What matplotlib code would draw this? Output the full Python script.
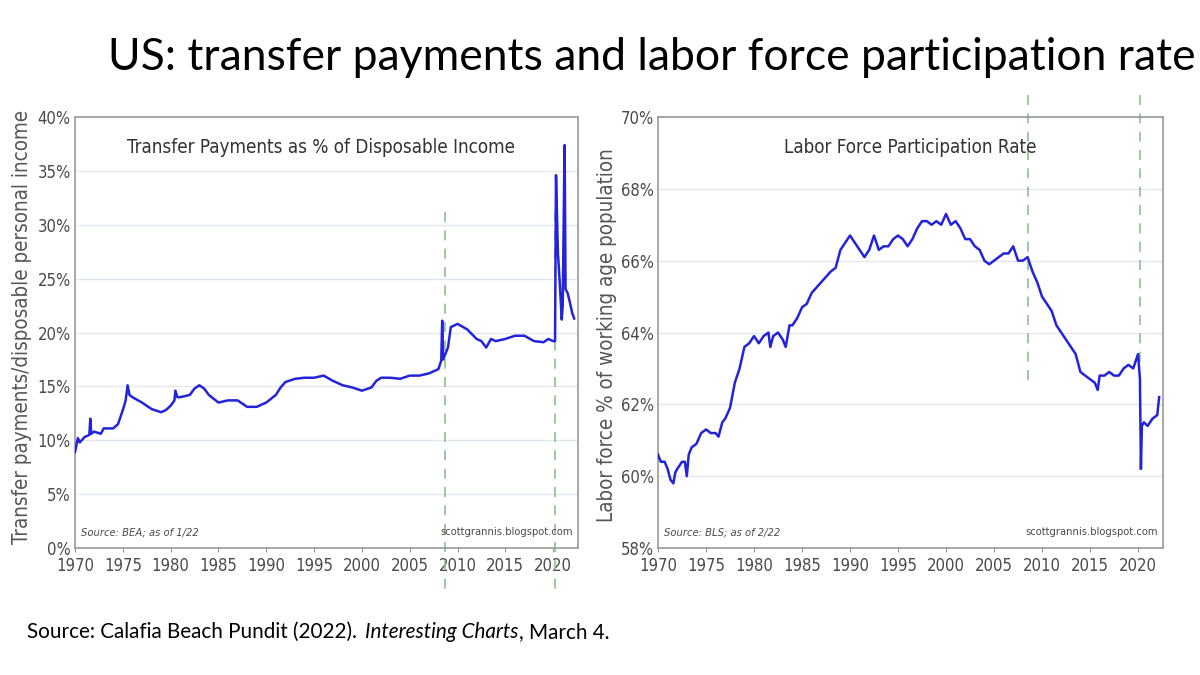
import matplotlib
matplotlib.use("Agg")
import matplotlib.pyplot as plt
from matplotlib.transforms import blended_transform_factory

# --- data ---
tp_years = [1970.0, 1970.3, 1970.5, 1971.0, 1971.5, 1971.6, 1971.7, 1972.0, 1972.7, 1973.0,
            1974.0, 1974.5, 1975.0, 1975.3, 1975.5, 1975.7, 1976.0, 1977.0, 1978.0, 1979.0,
            1979.5, 1980.0, 1980.4, 1980.5, 1980.7, 1981.0, 1982.0, 1982.5, 1983.0, 1983.5,
            1984.0, 1985.0, 1986.0, 1987.0, 1987.5, 1988.0, 1989.0, 1990.0, 1991.0, 1991.5,
            1992.0, 1993.0, 1994.0, 1995.0, 1996.0, 1997.0, 1998.0, 1999.0, 2000.0, 2001.0,
            2001.5, 2002.0, 2003.0, 2004.0, 2005.0, 2006.0, 2007.0, 2008.0, 2008.3, 2008.4,
            2008.5, 2009.0, 2009.3, 2010.0, 2011.0, 2012.0, 2012.5, 2013.0, 2013.5, 2014.0,
            2015.0, 2016.0, 2017.0, 2018.0, 2019.0, 2019.5, 2020.0, 2020.2, 2020.3, 2020.5,
            2020.7, 2020.9, 2021.0, 2021.1, 2021.2, 2021.3, 2021.5, 2021.7, 2022.0, 2022.2]
tp_values = [8.9, 10.2, 9.8, 10.3, 10.5, 12.0, 10.6, 10.8, 10.6, 11.1,
             11.1, 11.5, 12.8, 13.7, 15.1, 14.2, 14.0, 13.5, 12.9, 12.6,
             12.8, 13.2, 13.7, 14.6, 14.0, 14.0, 14.2, 14.8, 15.1, 14.8,
             14.2, 13.5, 13.7, 13.7, 13.4, 13.1, 13.1, 13.5, 14.2, 14.9,
             15.4, 15.7, 15.8, 15.8, 16.0, 15.5, 15.1, 14.9, 14.6, 14.9,
             15.5, 15.8, 15.8, 15.7, 16.0, 16.0, 16.2, 16.6, 17.4, 21.1,
             17.5, 18.6, 20.5, 20.8, 20.3, 19.4, 19.2, 18.6, 19.4, 19.2,
             19.4, 19.7, 19.7, 19.2, 19.1, 19.4, 19.2, 19.2, 34.6, 27.4,
             24.5, 21.2, 22.5, 30.0, 37.4, 24.0, 23.7, 23.0, 21.8, 21.3]

lf_years = [1970.0, 1970.3, 1970.7, 1971.0, 1971.3, 1971.6, 1971.8, 1972.0, 1972.5, 1972.8,
            1973.0, 1973.2, 1973.5, 1974.0, 1974.5, 1975.0, 1975.5, 1976.0, 1976.3, 1976.7,
            1977.0, 1977.5, 1978.0, 1978.5, 1979.0, 1979.5, 1980.0, 1980.5, 1981.0, 1981.5,
            1981.7, 1982.0, 1982.5, 1983.0, 1983.3, 1983.7, 1984.0, 1984.5, 1985.0, 1985.5,
            1986.0, 1987.0, 1988.0, 1988.5, 1989.0, 1989.5, 1990.0, 1990.5, 1991.0, 1991.5,
            1992.0, 1992.5, 1993.0, 1993.5, 1994.0, 1994.5, 1995.0, 1995.5, 1996.0, 1996.5,
            1997.0, 1997.5, 1998.0, 1998.5, 1999.0, 1999.5, 2000.0, 2000.5, 2001.0, 2001.5,
            2002.0, 2002.5, 2003.0, 2003.5, 2004.0, 2004.5, 2005.0, 2005.5, 2006.0, 2006.5,
            2007.0, 2007.5, 2008.0, 2008.5, 2009.0, 2009.5, 2010.0, 2010.5, 2011.0, 2011.5,
            2012.0, 2012.5, 2013.0, 2013.5, 2014.0, 2014.5, 2015.0, 2015.5, 2015.8, 2016.0,
            2016.5, 2017.0, 2017.5, 2018.0, 2018.5, 2019.0, 2019.5, 2020.0, 2020.2, 2020.3,
            2020.4, 2020.6, 2021.0, 2021.5, 2022.0, 2022.2]
lf_values = [60.6, 60.4, 60.4, 60.2, 59.9, 59.8, 60.1, 60.2, 60.4, 60.4,
             60.0, 60.6, 60.8, 60.9, 61.2, 61.3, 61.2, 61.2, 61.1, 61.5,
             61.6, 61.9, 62.6, 63.0, 63.6, 63.7, 63.9, 63.7, 63.9, 64.0,
             63.6, 63.9, 64.0, 63.8, 63.6, 64.2, 64.2, 64.4, 64.7, 64.8,
             65.1, 65.4, 65.7, 65.8, 66.3, 66.5, 66.7, 66.5, 66.3, 66.1,
             66.3, 66.7, 66.3, 66.4, 66.4, 66.6, 66.7, 66.6, 66.4, 66.6,
             66.9, 67.1, 67.1, 67.0, 67.1, 67.0, 67.3, 67.0, 67.1, 66.9,
             66.6, 66.6, 66.4, 66.3, 66.0, 65.9, 66.0, 66.1, 66.2, 66.2,
             66.4, 66.0, 66.0, 66.1, 65.7, 65.4, 65.0, 64.8, 64.6, 64.2,
             64.0, 63.8, 63.6, 63.4, 62.9, 62.8, 62.7, 62.6, 62.4, 62.8,
             62.8, 62.9, 62.8, 62.8, 63.0, 63.1, 63.0, 63.4, 62.7, 60.2,
             61.4, 61.5, 61.4, 61.6, 61.7, 62.2]

year_ticks = list(range(1970, 2021, 5))
tp_ticks = [0, 5, 10, 15, 20, 25, 30, 35, 40]
lf_ticks = [58, 60, 62, 64, 66, 68, 70]

BLUE = "#2323d9"
GREEN = "#8cbf8c"
GREY = "#4a4a4a"

NARROW = dict(family="DejaVu Sans", stretch="condensed")
MAIN = ["Lato", "DejaVu Sans"]

W, H = 1200, 675
fig = plt.figure(figsize=(12, 6.75), dpi=100)
fig.patch.set_facecolor("white")


def fig_x(px):
    return px / W


def fig_y(px):
    return 1 - px / H


def style_axes(ax, ticks, ylim):
    ax.set_xlim(1970, 2022.6)
    ax.set_ylim(*ylim)
    ax.set_yticks(ticks)
    ax.set_yticklabels([f"{t}%" for t in ticks])
    ax.set_xticks(year_ticks)
    ax.set_xticklabels([str(y) for y in year_ticks])
    ax.grid(axis="y", color="#e3e8ee", linewidth=1.0)
    ax.set_axisbelow(True)
    for s in ax.spines.values():
        s.set_color("#9a9a9a")
        s.set_linewidth(1.2)
    ax.tick_params(axis="both", colors="#9a9a9a", labelcolor=GREY, length=3, width=0.8)
    ax.tick_params(axis="y", length=0, pad=3)
    for lab in ax.get_xticklabels() + ax.get_yticklabels():
        lab.set_fontfamily(NARROW["family"])
        lab.set_fontstretch(NARROW["stretch"])
        lab.set_fontsize(12)


# left panel
ax1 = fig.add_axes([fig_x(75), fig_y(548), fig_x(578 - 75), (548 - 117) / H])
ax1.plot(tp_years, tp_values, color=BLUE, linewidth=1.8, zorder=3)
style_axes(ax1, tp_ticks, (0, 40))
ax1.text(0.49, 0.93, "Transfer Payments as % of Disposable Income", transform=ax1.transAxes,
         ha="center", va="center", fontsize=13.5, color="#333333", **NARROW)
ax1.text(0.012, 0.025, "Source: BEA; as of 1/22", transform=ax1.transAxes, ha="left", va="bottom",
         fontsize=8, style="italic", color=GREY, **NARROW)
ax1.text(0.99, 0.025, "scottgrannis.blogspot.com", transform=ax1.transAxes, ha="right", va="bottom",
         fontsize=8, color=GREY, **NARROW)
fig.text(fig_x(22), fig_y(327), "Transfer payments/disposable personal income", rotation=90,
         ha="center", va="center", fontsize=14.8, color="#555555", **NARROW)

tr1 = blended_transform_factory(ax1.transData, fig.transFigure)
for yr in [2008.7, 2020.2]:
    ax1.plot([yr, yr], [fig_y(212), fig_y(593)], transform=tr1, color=GREEN, linewidth=1.2,
             linestyle=(0, (6, 5)), clip_on=False, zorder=2)

# right panel
ax2 = fig.add_axes([fig_x(658), fig_y(548), fig_x(1163 - 658), (548 - 117) / H])
ax2.plot(lf_years, lf_values, color=BLUE, linewidth=1.8, zorder=3)
style_axes(ax2, lf_ticks, (58, 70))
ax2.text(0.5, 0.93, "Labor Force Participation Rate", transform=ax2.transAxes,
         ha="center", va="center", fontsize=13.5, color="#333333", **NARROW)
ax2.text(0.012, 0.025, "Source: BLS; as of 2/22", transform=ax2.transAxes, ha="left", va="bottom",
         fontsize=8, style="italic", color=GREY, **NARROW)
ax2.text(0.99, 0.025, "scottgrannis.blogspot.com", transform=ax2.transAxes, ha="right", va="bottom",
         fontsize=8, color=GREY, **NARROW)
fig.text(fig_x(607), fig_y(335), "Labor force % of working age population", rotation=90,
         ha="center", va="center", fontsize=14.8, color="#555555", **NARROW)

tr2 = blended_transform_factory(ax2.transData, fig.transFigure)
ax2.plot([2008.5, 2008.5], [fig_y(95), fig_y(388)], transform=tr2, color=GREEN, linewidth=1.2,
         linestyle=(0, (6, 5)), clip_on=False, zorder=2)
ax2.plot([2020.2, 2020.2], [fig_y(95), fig_y(362)], transform=tr2, color=GREEN, linewidth=1.2,
         linestyle=(0, (6, 5)), clip_on=False, zorder=2)

# headline and footer
fig.text(fig_x(108), fig_y(58), "US: transfer payments and labor force participation rate",
         ha="left", va="center", fontsize=32, color="black", family=MAIN)

renderer = fig.canvas.get_renderer()
x = 27
parts = [("Source: Calafia Beach Pundit (2022). ", "normal"),
         ("Interesting Charts", "italic"),
         (", March 4.", "normal")]
for txt, st in parts:
    t = fig.text(fig_x(x), fig_y(632), txt, ha="left", va="center", fontsize=14.9,
                 style=st, color="black", family=MAIN)
    bb = t.get_window_extent(renderer)
    x += bb.width + (3 if txt.endswith(" ") else 0)

fig.savefig("out.png", dpi=100, facecolor="white")
